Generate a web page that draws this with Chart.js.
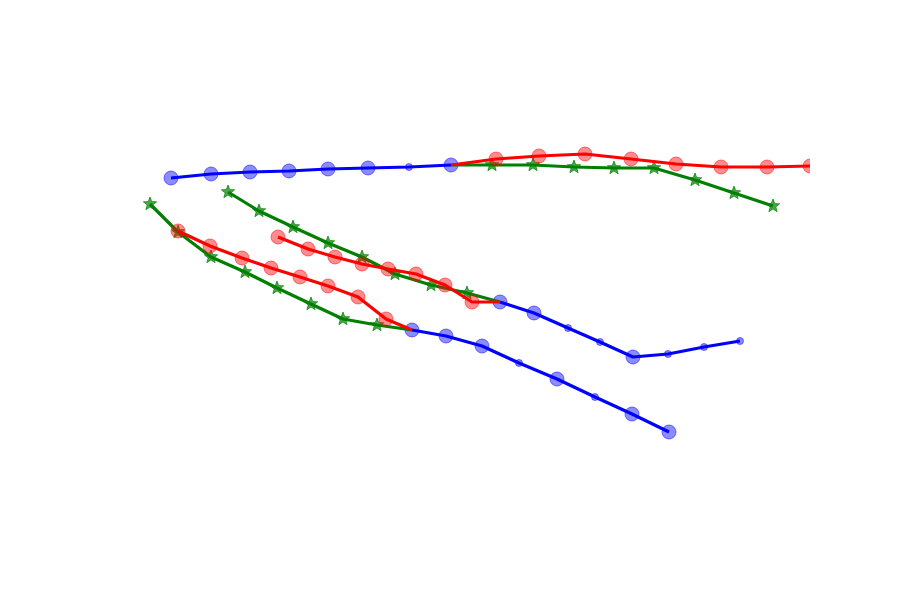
<!DOCTYPE html>
<html>
<head>
<meta charset="utf-8">
<script src="https://cdn.jsdelivr.net/npm/chart.js@4/dist/chart.umd.min.js"></script>
<style>
  body { margin: 0; background: #fff; }
  #wrap { width: 900px; height: 600px; }
</style>
</head>
<body>
<div id="wrap"><canvas id="pathChart" width="900" height="600"></canvas></div>
<script>

// -------------------------
//      PATH DATA
// -------------------------

// upper trunk (blue) and its two branches
const topBlueX = [59, 99, 138, 177, 216, 256, 297, 339];
const topBlueY = [350, 354, 356, 357, 359, 360, 361, 363];
const topBlueMajor = [1, 1, 1, 1, 1, 1, 0, 1];

const topRedX = [339, 384, 427, 473, 519, 564, 609, 655, 698];
const topRedY = [363, 369, 372, 374, 369, 364, 361, 361, 362];

const topGreenX = [339, 380, 421, 462, 502, 542, 583, 622, 661];
const topGreenY = [363, 363, 363, 361, 360, 360, 348, 335, 322];

// lower-left pair merging into blue
const lowGreenX = [38, 66, 99, 133, 165, 199, 231, 265, 300];
const lowGreenY = [324, 296, 271, 256, 240, 224, 209, 203, 198];

const lowRedX = [66, 98, 130, 159, 188, 216, 246, 274, 300];
const lowRedY = [297, 282, 270, 260, 251, 242, 231, 209, 198];

const lowBlueX = [300, 334, 370, 407, 445, 483, 520, 557];
const lowBlueY = [198, 192, 182, 165, 149, 131, 114, 96];
const lowBlueMajor = [1, 1, 1, 0, 1, 0, 1, 1];

// middle pair merging into blue
const midGreenX = [116, 147, 181, 216, 250, 283, 319, 355, 388];
const midGreenY = [336, 317, 301, 285, 271, 254, 243, 235, 226];

const midRedX = [166, 196, 223, 250, 276, 304, 333, 360, 388];
const midRedY = [291, 279, 271, 264, 259, 254, 243, 226, 226];

const midBlueX = [388, 422, 456, 488, 521, 556, 592, 628];
const midBlueY = [226, 215, 200, 186, 171, 174, 181, 187];
const midBlueMajor = [1, 1, 0, 0, 1, 0, 0, 0];

// -------------------------

function toPoints(xs, ys) {
    return xs.map((x, i) => ({ x, y: ys[i] }));
}

// filled five-point star, like matplotlib's '*'
function makeStar(r, fill) {
    const c = document.createElement("canvas");
    c.width = c.height = Math.ceil(r * 2 + 2);
    const g = c.getContext("2d");
    const cx = c.width / 2, cy = c.height / 2;
    g.beginPath();
    for (let i = 0; i < 10; i++) {
        const rad = i % 2 === 0 ? r : r * 0.42;
        const a = -Math.PI / 2 + i * Math.PI / 5;
        const px = cx + rad * Math.cos(a), py = cy + rad * Math.sin(a);
        if (i === 0) g.moveTo(px, py); else g.lineTo(px, py);
    }
    g.closePath();
    g.fillStyle = fill;
    g.fill();
    g.strokeStyle = fill;
    g.lineWidth = 1;
    g.stroke();
    return c;
}

const star = makeStar(7, "rgba(0,128,0,0.7)");

// the end of a branch sitting on the blue trunk gets no marker
function isJoint(i, n, skipFirst) {
    return skipFirst ? i === 0 : i === n - 1;
}

function blueSet(xs, ys, major) {
    return {
        data: toPoints(xs, ys),
        borderColor: "#0000ff",
        borderWidth: 3.2,
        pointRadius: major.map(m => m ? 7 : 3.5),
        pointBackgroundColor: "rgba(0,0,255,0.45)",
        pointBorderColor: "rgba(0,0,255,0.5)",
        pointBorderWidth: 1,
        order: 3
    };
}

function redSet(xs, ys, skipFirst) {
    return {
        data: toPoints(xs, ys),
        borderColor: "#ff0000",
        borderWidth: 3.2,
        pointRadius: xs.map((_, i) => isJoint(i, xs.length, skipFirst) ? 0 : 7),
        pointBackgroundColor: "rgba(255,0,0,0.45)",
        pointBorderColor: "rgba(255,0,0,0.5)",
        pointBorderWidth: 1,
        order: 1
    };
}

function greenSet(xs, ys, skipFirst) {
    return {
        data: toPoints(xs, ys),
        borderColor: "#008000",
        borderWidth: 3.2,
        pointStyle: xs.map((_, i) => isJoint(i, xs.length, skipFirst) ? false : star),
        pointRadius: 7,
        order: 2
    };
}

const datasets = [
    blueSet(topBlueX, topBlueY, topBlueMajor),
    blueSet(lowBlueX, lowBlueY, lowBlueMajor),
    blueSet(midBlueX, midBlueY, midBlueMajor),
    greenSet(topGreenX, topGreenY, true),
    greenSet(lowGreenX, lowGreenY, false),
    greenSet(midGreenX, midGreenY, false),
    redSet(topRedX, topRedY, true),
    redSet(lowRedX, lowRedY, false),
    redSet(midRedX, midRedY, false)
];

datasets.forEach(d => {
    d.tension = 0;
    d.fill = false;
    d.clip = 0;
    d.borderJoinStyle = "round";
});

new Chart(document.getElementById("pathChart").getContext("2d"), {
    type: "line",
    data: { datasets },
    options: {
        responsive: false,
        animation: false,
        layout: { padding: { left: 112, right: 90, top: 72, bottom: 72 } },
        plugins: { legend: { display: false }, tooltip: { enabled: false } },
        scales: {
            x: { type: "linear", min: 0, max: 698, display: false },
            y: { type: "linear", min: 0, max: 456, display: false }
        }
    }
});
</script>
</body>
</html>
